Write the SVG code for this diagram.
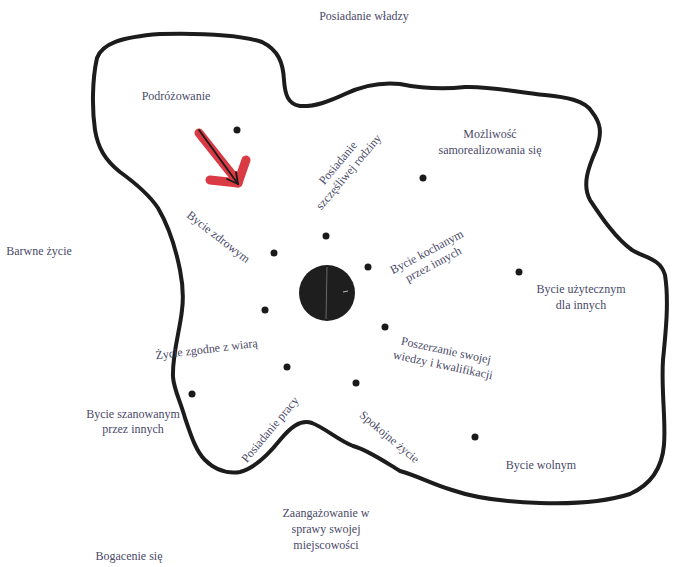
<svg xmlns="http://www.w3.org/2000/svg" width="675" height="567" viewBox="0 0 675 567">
<style>
text{font-family:"Liberation Serif","Times New Roman",serif;font-size:12px;fill:#4a4a68;text-anchor:middle}
.dot{fill:#1a1a1a}
.outline{fill:none;stroke:#1c1c1c;stroke-width:4;stroke-linejoin:round;stroke-linecap:round}
</style>
<rect width="675" height="567" fill="#ffffff"/>
<g id="outline">
<path class="outline" d="M97,58 C102,44 120,37 160,34 C200,33 240,35 262,42 C278,50 283,62 284,80 C285,95 288,104 300,106 C315,107 330,101 345,94 C362,86 380,82 400,84 C420,88 440,90 465,87 C490,86 515,92 545,95 C565,97 585,100 592,112 C600,122 603,132 596,150 C588,168 582,185 590,200 C600,215 615,238 632,250 C645,258 660,258 665,275 C669,300 666,330 663,360 C661,390 666,420 664,445 C662,468 650,485 630,494 C605,502 570,504 540,503 C505,502 475,498 452,490 C432,484 418,476 400,471 C385,462 368,450 353,446 C338,440 325,428 312,423 C300,419 290,428 280,440 C268,455 255,468 240,472 C228,474 215,470 205,460 C195,450 190,432 185,418 C180,400 174,390 173,377 C172,355 180,330 182,310 C184,295 183,285 180,270 C176,250 168,225 158,208 C150,196 138,185 120,172 C105,160 98,148 95,130 C92,110 92,80 97,58 Z"/>
</g>
<g id="connectors">
<g id="red-arrow" stroke="#d9303a" stroke-width="9" stroke-linecap="round" fill="none" opacity="0.95">
<path d="M199,133 L238,182"/>
<path d="M238,183 L246,160"/>
<path d="M238,183 L210,180"/>
</g>
<g id="black-arrow" stroke="#1a1a1a" stroke-width="1.8" fill="none" stroke-linecap="round">
<path d="M199,130 L238,184"/>
<path d="M238,184 L236,172"/>
<path d="M238,184 L227,179"/>
</g>
</g>
<g id="center">
<circle cx="327" cy="293" r="28" fill="#1e1e1e"/>
<path d="M327,267 L326,319" stroke="#9a9a9a" stroke-width="1" opacity="0.6"/>
<path d="M343,292 L348,291" stroke="#bbbbbb" stroke-width="1"/>
</g>
<g id="posiadanie-wladzy"><text x="364" y="20">Posiadanie władzy</text></g>
<g id="podrozowanie"><text x="176" y="100">Podróżowanie</text><circle class="dot" cx="237" cy="130" r="3.5"/></g>
<g id="barwne-zycie"><text x="39" y="255">Barwne życie</text></g>
<g id="mozliwosc"><text x="490" y="138">Możliwość</text><text x="490" y="154">samorealizowania się</text><circle class="dot" cx="423" cy="178" r="3.5"/></g>
<g id="rodzina" transform="translate(344,168) rotate(-50)"><text x="0" y="-4">Posiadanie</text><text x="0" y="10">szczęśliwej rodziny</text></g>
<g id="dot-rodzina"><circle class="dot" cx="326" cy="236" r="3.5"/></g>
<g id="zdrowie"><text transform="translate(216,240) rotate(38)">Bycie zdrowym</text><circle class="dot" cx="274" cy="253" r="3.5"/></g>
<g id="kochanym" transform="translate(430,258) rotate(-28)"><text x="0" y="-3">Bycie kochanym</text><text x="0" y="11">przez innych</text></g>
<g id="dot-kochanym"><circle class="dot" cx="368" cy="267" r="3.5"/></g>
<g id="uzytecznym"><text x="581" y="293">Bycie użytecznym</text><text x="581" y="309">dla innych</text><circle class="dot" cx="519" cy="272" r="3.5"/></g>
<g id="wiara"><text transform="translate(207,353) rotate(-7)">Życie zgodne z wiarą</text><circle class="dot" cx="265" cy="310" r="3.5"/></g>
<g id="wiedza" transform="translate(444,360) rotate(12)"><text x="0" y="-6">Poszerzanie swojej</text><text x="0" y="9">wiedzy i kwalifikacji</text></g>
<g id="dot-wiedza"><circle class="dot" cx="385" cy="327" r="3.5"/></g>
<g id="szanowanym"><text x="133" y="418">Bycie szanowanym</text><text x="133" y="433">przez innych</text><circle class="dot" cx="192" cy="394" r="3.5"/></g>
<g id="praca"><text transform="translate(273,432) rotate(-50)">Posiadanie pracy</text><circle class="dot" cx="287" cy="367" r="3.5"/></g>
<g id="spokojne"><text transform="translate(387,440) rotate(40)">Spokojne życie</text><circle class="dot" cx="356" cy="383" r="3.5"/></g>
<g id="wolnym"><text x="541" y="469">Bycie wolnym</text><circle class="dot" cx="475" cy="437" r="3.5"/></g>
<g id="zaangazowanie"><text x="326" y="517">Zaangażowanie w</text><text x="326" y="533">sprawy swojej</text><text x="326" y="549">miejscowości</text></g>
<g id="bogacenie"><text x="129" y="560">Bogacenie się</text></g>
</svg>
